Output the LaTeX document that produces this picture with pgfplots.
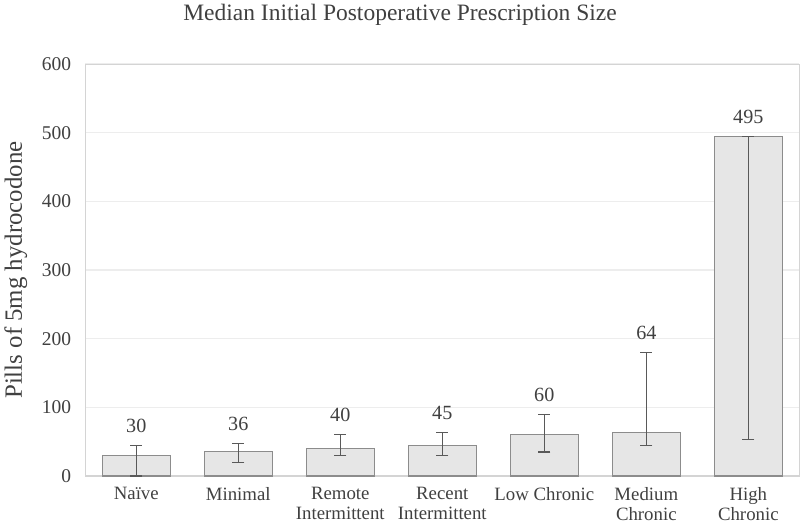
\documentclass[border=0pt]{standalone}
\usepackage{pgfplots}
\pgfplotsset{compat=1.18}
\usepackage{fontspec}
\setmainfont{Liberation Serif}
\definecolor{barfill}{HTML}{E6E6E6}
\definecolor{baredge}{HTML}{8C8C8C}
\definecolor{errc}{HTML}{595959}
\definecolor{gridc}{HTML}{EDEDED}
\definecolor{framec}{HTML}{D4D4D4}
\definecolor{txt}{HTML}{404040}
\begin{document}
\begin{tikzpicture}[x=1pt,y=1pt]
\begin{axis}[
  scale only axis,
  width=531.75pt, height=306.75pt,
  xmin=-0.5, xmax=6.5,
  ymin=0, ymax=600,
  ytick={0,100,...,600},
  xtick={0,1,2,3,4,5,6},
  xticklabels={Na\"ive, Minimal, Remote\\Intermittent, Recent\\Intermittent, Low Chronic, Medium\\Chronic, High\\Chronic},
  xticklabel style={align=center, font=\fontsize{14}{14.5}\selectfont, text=txt, yshift=-5pt},
  yticklabel style={font=\fontsize{14.5}{16}\selectfont, text=txt, xshift=-7pt},
  /pgf/number format/assume math mode=true,
  major tick length=0pt,
  ymajorgrids,
  grid style={gridc, line width=1pt},
  axis line style={framec, line width=0.8pt},
  ylabel={Pills of 5mg hydrocodone},
  ylabel style={font=\fontsize{18.5}{20}\selectfont, text=txt, yshift=4pt},
  title={Median Initial Postoperative Prescription Size},
  title style={font=\fontsize{17.5}{20}\selectfont, text=txt, yshift=19pt, xshift=-31.5pt},
  clip=false,
]
\addplot[ybar, bar width=0.668, fill=barfill, draw=baredge, line width=0.8pt,
  error bars/.cd, y dir=both, y explicit,
  error bar style={errc, line width=0.8pt},
  error mark options={errc, line width=0.8pt, mark size=4.5pt, rotate=90}]
  coordinates {
  (0,30)  -= (0,30)  += (0,15)
  (1,36)  -= (0,16)  += (0,11)
  (2,40)  -= (0,10)  += (0,20)
  (3,45)  -= (0,15)  += (0,19)
  (4,60)  -= (0,25)  += (0,30)
  (5,64)  -= (0,19)  += (0,116)
  (6,495) -= (0,442) += (0,0)
  };
\addplot[draw=none, mark=none, nodes near coords, point meta=explicit symbolic,
  nodes near coords style={anchor=south, font=\fontsize{15}{16}\selectfont, text=txt, yshift=6pt}]
  coordinates {
  (0,45)[30] (1,47)[36] (2,60)[40] (3,64)[45] (4,90)[60] (5,180)[64] (6,495)[495]
  };
\end{axis}
\end{tikzpicture}
\end{document}
